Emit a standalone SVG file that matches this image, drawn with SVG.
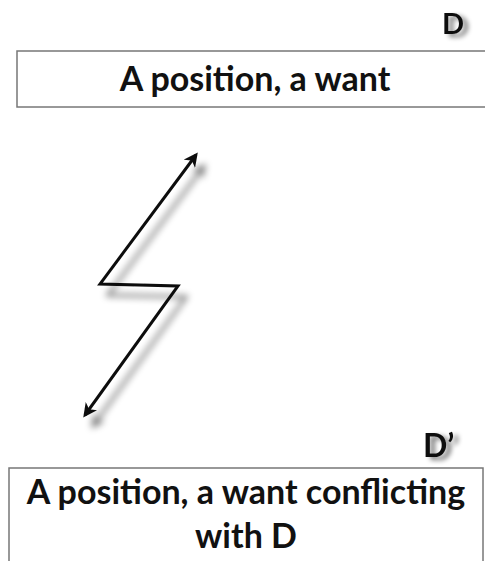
<svg xmlns="http://www.w3.org/2000/svg" width="485" height="561" viewBox="0 0 485 561">
<defs>
<style>
.box{fill:#fff;stroke:#777;stroke-width:1.5}
.t{font-family:Lato,"Open Sans",sans-serif;font-weight:bold;font-size:34px;fill:#111;text-anchor:middle}
.lbl{font-family:Lato,"Open Sans",sans-serif;font-weight:bold;fill:#111}
.conn{fill:none;stroke:#111;stroke-width:3;stroke-linejoin:miter}
</style>
<filter id="sh" x="-30%" y="-30%" width="160%" height="160%">
<feGaussianBlur in="SourceAlpha" stdDeviation="3.5"/>
<feOffset dx="8" dy="11" result="b"/>
<feComponentTransfer><feFuncA type="linear" slope="0.55"/></feComponentTransfer>
<feMerge><feMergeNode/><feMergeNode in="SourceGraphic"/></feMerge>
</filter>
<filter id="sh2" x="-30%" y="-30%" width="180%" height="180%">
<feGaussianBlur in="SourceAlpha" stdDeviation="2.5"/>
<feOffset dx="5" dy="3" result="b"/>
<feComponentTransfer><feFuncA type="linear" slope="0.55"/></feComponentTransfer>
<feMerge><feMergeNode/><feMergeNode in="SourceGraphic"/></feMerge>
</filter>
<marker id="ah" markerWidth="14" markerHeight="14" refX="11" refY="7" orient="auto-start-reverse" markerUnits="userSpaceOnUse" viewBox="0 0 14 14">
<path d="M0,0 L14,7 L0,14 L4,7 Z" fill="#111"/>
</marker>
</defs>
<rect width="485" height="561" fill="#fff"/>
<g id="nodeD">
<rect class="box" x="17" y="51" width="475" height="56"/>
<text class="t" x="255" y="91">A position, a want</text>
<text class="lbl" x="442" y="34" font-size="29" filter="url(#sh2)">D</text>
</g>
<g id="nodeDprime">
<rect class="box" x="9" y="468" width="474" height="110"/>
<text class="t" x="246" y="504">A position, a want conflicting</text>
<text class="t" x="246" y="548">with D</text>
<text class="lbl" x="423" y="457" font-size="32" filter="url(#sh2)">D’</text>
</g>
<g id="connectors" filter="url(#sh)">
<path class="conn" d="M196,155 L100,284 L178,286 L85,415" marker-start="url(#ah)" marker-end="url(#ah)"/>
</g>
</svg>
